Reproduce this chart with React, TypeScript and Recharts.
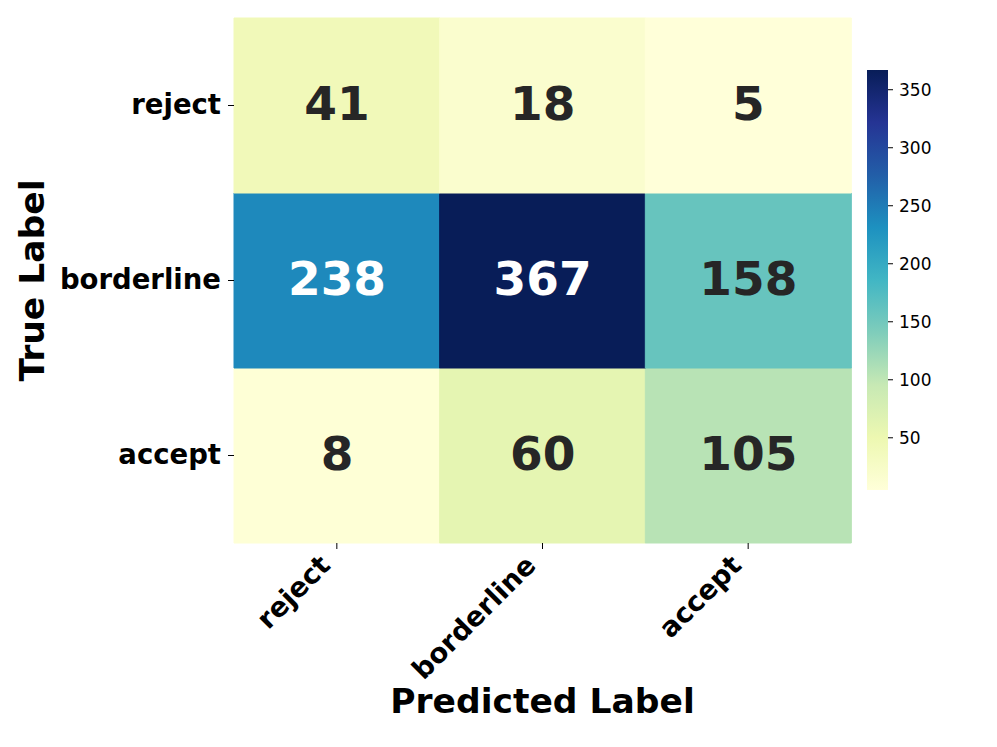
import { Bar, BarChart, Cell, LabelList, Label, XAxis, YAxis } from "recharts";

// confusion matrix, rows = true label (top to bottom), cols = predicted
const classes = ["reject", "borderline", "accept"];
const rejectRow = [41, 18, 5];
const borderlineRow = [238, 367, 158];
const acceptRow = [8, 60, 105];

const colorbarTicks = [50, 100, 150, 200, 250, 300, 350];
const vMin = 5;
const vMax = 367;

// matplotlib YlGnBu anchor colours
const ylGnBu = [
  "#ffffd9", "#edf8b1", "#c7e9b4", "#7fcdbb", "#41b6c4",
  "#1d91c0", "#225ea8", "#253494", "#081d58",
];

const FONT = "'DejaVu Sans', sans-serif";

const hexToRgb = (h: string) => [
  parseInt(h.slice(1, 3), 16),
  parseInt(h.slice(3, 5), 16),
  parseInt(h.slice(5, 7), 16),
];

const colorFor = (v: number): string => {
  const t = Math.min(1, Math.max(0, (v - vMin) / (vMax - vMin)));
  const pos = t * (ylGnBu.length - 1);
  const i = Math.min(ylGnBu.length - 2, Math.floor(pos));
  const f = pos - i;
  const a = hexToRgb(ylGnBu[i]);
  const b = hexToRgb(ylGnBu[i + 1]);
  const c = a.map((x, k) => Math.round(x + (b[k] - x) * f));
  return `rgb(${c[0]},${c[1]},${c[2]})`;
};

const textColorFor = (v: number) => ((v - vMin) / (vMax - vMin) > 0.55 ? "#ffffff" : "#262626");

// one entry per predicted column; each row is a stacked unit cell
const cells = classes.map((name, i) => ({
  name,
  accept: 1,
  borderline: 1,
  reject: 1,
  acceptCount: acceptRow[i],
  borderlineCount: borderlineRow[i],
  rejectCount: rejectRow[i],
}));

const rowTicks: Record<string, string> = { "0.5": "accept", "1.5": "borderline", "2.5": "reject" };

const renderCount = (props: any) => {
  const { x, y, width, height, value } = props;
  return (
    <text
      x={Number(x) + Number(width) / 2}
      y={Number(y) + Number(height) / 2 - 2}
      textAnchor="middle"
      dominantBaseline="central"
      fontFamily={FONT}
      fontWeight="bold"
      fontSize={47}
      fill={textColorFor(Number(value))}
    >
      {value}
    </text>
  );
};

const XTick = ({ x, y, payload }: any) => (
  <g transform={`translate(${x},${y})`}>
    <text
      x={-5}
      y={16}
      transform="rotate(-45, -5, 16)"
      textAnchor="end"
      fontFamily={FONT}
      fontWeight="bold"
      fontSize={27.5}
      fill="#000"
    >
      {payload.value}
    </text>
  </g>
);

const YTick = ({ x, y, payload }: any) => (
  <text
    x={x}
    y={y - 2}
    textAnchor="end"
    dominantBaseline="central"
    fontFamily={FONT}
    fontWeight="bold"
    fontSize={27.5}
    fill="#000"
  >
    {rowTicks[String(payload.value)] ?? ""}
  </text>
);

const rows: { key: "accept" | "borderline" | "reject"; values: number[] }[] = [
  { key: "accept", values: acceptRow },
  { key: "borderline", values: borderlineRow },
  { key: "reject", values: rejectRow },
];

export default function App() {
  return (
    <div style={{ position: "absolute", left: 0, top: 0, width: 997, height: 747, background: "#fff" }}>
      <BarChart
        width={997}
        height={747}
        data={cells}
        margin={{ top: 18, right: 146, bottom: 0, left: 0 }}
        barCategoryGap={0}
        barGap={0}
      >
        <XAxis
          dataKey="name"
          height={204}
          axisLine={false}
          tickLine={{ stroke: "#000", strokeWidth: 1 }}
          tickSize={6}
          tickMargin={2}
          tick={<XTick />}
          interval={0}
        >
          <Label
            content={({ viewBox }: any) => (
              <text
                x={viewBox.x + viewBox.width / 2}
                y={713}
                textAnchor="middle"
                fontFamily={FONT}
                fontWeight="bold"
                fontSize={34.5}
                fill="#000"
              >
                Predicted Label
              </text>
            )}
          />
        </XAxis>
        <YAxis
          type="number"
          domain={[0, 3]}
          ticks={[0.5, 1.5, 2.5]}
          width={234}
          axisLine={false}
          tickLine={{ stroke: "#000", strokeWidth: 1 }}
          tickSize={6}
          tickMargin={7}
          tick={<YTick />}
        >
          <Label
            content={({ viewBox }: any) => (
              <text
                x={44}
                y={viewBox.y + viewBox.height / 2}
                transform={`rotate(-90, 44, ${viewBox.y + viewBox.height / 2})`}
                textAnchor="middle"
                fontFamily={FONT}
                fontWeight="bold"
                fontSize={34.5}
                fill="#000"
              >
                True Label
              </text>
            )}
          />
        </YAxis>
        {rows.map((r) => (
          <Bar key={r.key} dataKey={r.key} stackId="cm" isAnimationActive={false}>
            {r.values.map((v, i) => (
              <Cell key={i} fill={colorFor(v)} stroke={colorFor(v)} />
            ))}
            <LabelList dataKey={`${r.key}Count`} content={renderCount} />
          </Bar>
        ))}
      </BarChart>

      <div style={{ position: "absolute", left: 850, top: 50 }}>
        <BarChart
          width={130}
          height={460}
          data={[{ name: "cb", range: [vMin, vMax] }]}
          margin={{ top: 20, right: 0, bottom: 20, left: 17 }}
          barCategoryGap={0}
        >
          <defs>
            <linearGradient id="cbGrad" x1="0" y1="1" x2="0" y2="0">
              {ylGnBu.map((c, i) => (
                <stop key={i} offset={`${(i / (ylGnBu.length - 1)) * 100}%`} stopColor={c} />
              ))}
            </linearGradient>
          </defs>
          <XAxis dataKey="name" hide />
          <YAxis
            type="number"
            orientation="right"
            domain={[vMin, vMax]}
            ticks={colorbarTicks}
            width={92}
            axisLine={false}
            tickLine={{ stroke: "#000", strokeWidth: 1 }}
            tickSize={5}
            tickMargin={6}
            tick={{ fontFamily: FONT, fontSize: 17, fill: "#000", textAnchor: "start" }}
          />
          <Bar dataKey="range" fill="url(#cbGrad)" isAnimationActive={false} />
        </BarChart>
      </div>
    </div>
  );
}
